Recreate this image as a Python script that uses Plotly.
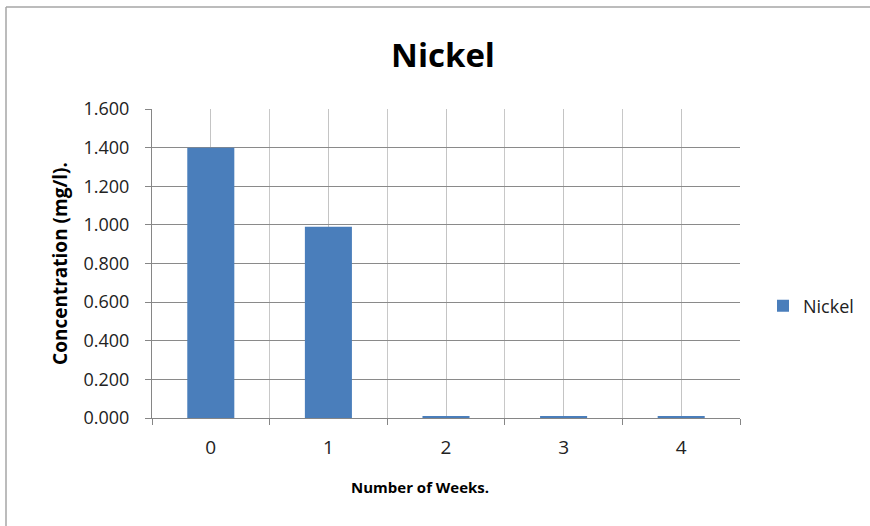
import plotly.graph_objects as go

weeks = [0, 1, 2, 3, 4]
nickel = [1.400, 0.990, 0.010, 0.010, 0.010]
y_ticks = [0.0, 0.2, 0.4, 0.6, 0.8, 1.0, 1.2, 1.4, 1.6]

W, H = 870, 526
L, R, T, B = 152, 740, 109, 418
pw, ph = R - L, B - T

fig = go.Figure()
fig.add_trace(go.Bar(x=weeks, y=nickel, name="Nickel", width=0.4,
                     marker=dict(color="#4a7ebb", line=dict(width=0)),
                     showlegend=True))

font = "Open Sans, Liberation Sans, sans-serif"
fig.update_layout(
    width=W, height=H,
    margin=dict(l=L, r=W - R, t=T, b=H - B, autoexpand=False),
    paper_bgcolor="white", plot_bgcolor="white",
    font=dict(family=font, color="#222222", size=16),
    title=dict(text="<b>Nickel</b>", x=443 / W, xanchor="center",
               y=1 - 55 / H, yanchor="middle", font=dict(size=33, color="black")),
    showlegend=True,
    legend=dict(x=(763 - L) / pw, y=(B - 306) / ph, xanchor="left", yanchor="middle",
                font=dict(size=18, color="#222222"), bgcolor="rgba(0,0,0,0)",
                itemwidth=30),
    bargap=0.6,
)
fig.update_xaxes(
    range=[-0.5, 4.5], tickvals=weeks, ticktext=[str(w) for w in weeks],
    showgrid=True, gridcolor="#c4c4c4", gridwidth=1,
    showline=True, linecolor="#868686", linewidth=1,
    ticks="", tickfont=dict(size=19, color="#222222"),
    ticklabelstandoff=12,
    minor=dict(tick0=0.5, dtick=1, showgrid=True, gridcolor="#c8c8c8",
               ticks="outside", ticklen=6, tickcolor="#868686"),
    zeroline=False,
)
fig.update_yaxes(
    range=[0, 1.6], tickvals=y_ticks, tickformat=".3f",
    showgrid=True, gridcolor="#8a8a8a", gridwidth=1,
    showline=True, linecolor="#868686", linewidth=1,
    ticks="outside", ticklen=6, tickcolor="#868686",
    tickfont=dict(size=18, color="#222222"),
    ticklabelstandoff=12,
    title=dict(text="<b>Concentration (mg/l).</b>", font=dict(size=19, color="black"),
               standoff=10),
    zeroline=False,
)
# x axis title
fig.add_annotation(text="<b>Number of Weeks.</b>", xref="paper", yref="paper",
                   x=(420 - L) / pw, y=(B - 487) / ph, xanchor="center", yanchor="middle",
                   showarrow=False, font=dict(size=15, color="black"))
# chart border (top and left visible)
fig.add_shape(type="line", xref="paper", yref="paper",
              x0=(6 - L) / pw, x1=(W + 5 - L) / pw, y0=(B - 7) / ph, y1=(B - 7) / ph,
              line=dict(color="#a6a6a6", width=1.5))
fig.add_shape(type="line", xref="paper", yref="paper",
              x0=(6 - L) / pw, x1=(6 - L) / pw, y0=(B - 7) / ph, y1=(B - H - 5) / ph,
              line=dict(color="#a6a6a6", width=1.5))

fig.write_html("out.html")
